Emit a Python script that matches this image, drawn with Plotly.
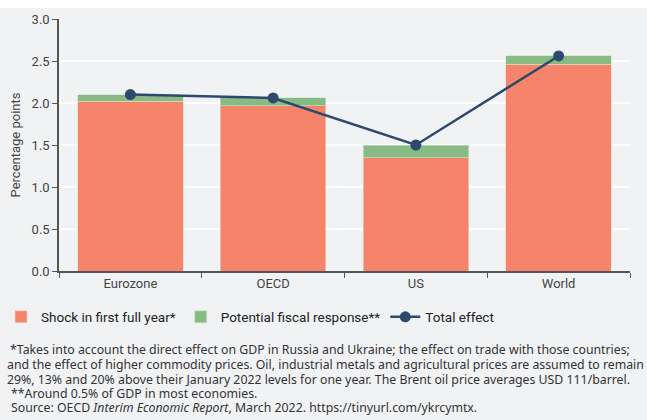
import plotly.graph_objects as go

categories = ["Eurozone", "OECD", "US", "World"]
shock = [2.02, 1.97, 1.35, 2.46]
fiscal = [0.08, 0.09, 0.15, 0.10]
total = [2.10, 2.06, 1.50, 2.56]
y_ticks = [0.0, 0.5, 1.0, 1.5, 2.0, 2.5, 3.0]

W, H = 647, 420
ML, MR, MT, MB = 59, 17, 19, 149
PW, PH = W - ML - MR, H - MT - MB

def px(x):
    return (x - ML) / PW

def py(y):
    return (H - MB - y) / PH

FONT = "Roboto"
NOTE_FONT = "Noto Sans"
ORANGE = "#f5846a"
GREEN = "#87bb83"
NAVY = "#2d4a6e"
BG = "#f1f2f4"

fig = go.Figure()
fig.add_trace(go.Bar(x=categories, y=shock, name="Shock in first full year*",
                     marker=dict(color=ORANGE, line=dict(color="#f7d6cc", width=0.6)), width=0.74))
fig.add_trace(go.Bar(x=categories, y=fiscal, name="Potential fiscal response**",
                     marker=dict(color=GREEN, line=dict(color="#cfe3cd", width=0.6)), width=0.74))
fig.add_trace(go.Scatter(x=categories, y=total, name="Total effect", mode="lines+markers",
                         line=dict(color=NAVY, width=2.5), marker=dict(color=NAVY, size=11)))

fig.update_layout(
    width=W, height=H, barmode="stack",
    margin=dict(l=ML, r=MR, t=MT, b=MB, pad=0, autoexpand=False),
    paper_bgcolor="white", plot_bgcolor=BG,
    font=dict(family=FONT, color="#444444", size=12),
    showlegend=True,
    legend=dict(orientation="h", x=px(1), y=py(317), xanchor="left", yanchor="middle",
                font=dict(family=FONT, size=13.5, color="#222222"), bgcolor="rgba(0,0,0,0)",
                traceorder="normal", itemwidth=30, tracegroupgap=0),
    xaxis=dict(range=[-0.5, 3.5], showline=True, linecolor="#555555", linewidth=1.5,
               ticks="outside", tickson="boundaries", ticklen=5, tickcolor="#555555",
               tickfont=dict(size=13, color="#444444"), showgrid=False, automargin=False),
    yaxis=dict(range=[0, 3.0], tickvals=y_ticks, ticktext=[f"{v:.1f}" for v in y_ticks],
               showline=True, linecolor="#555555", linewidth=1.5, ticks="outside", ticklen=5,
               tickcolor="#555555", gridcolor="white", gridwidth=2, zeroline=False,
               tickfont=dict(size=13, color="#444444"), automargin=False,
               title=dict(text="Percentage points", font=dict(size=13, color="#444444"), standoff=8)),
)

fig.add_shape(type="rect", xref="paper", yref="paper", x0=px(0), x1=px(W), y0=py(H), y1=py(8),
              fillcolor=BG, line=dict(width=0), layer="below")

notes = [
    (8, 349, "*Takes into account the direct effect on GDP in Russia and Ukraine; the effect on trade with those countries;"),
    (5, 364, "and the effect of higher commodity prices. Oil, industrial metals and agricultural prices are assumed to remain"),
    (5, 379, "29%, 13% and 20% above their January 2022 levels for one year. The Brent oil price averages USD 111/barrel."),
    (9, 393, "**Around 0.5% of GDP in most economies."),
    (9, 408, "Source: OECD <i>Interim Economic Report</i>, March 2022. https://tinyurl.com/ykrcymtx."),
]
for x, y, t in notes:
    fig.add_annotation(text=t, x=px(x), y=py(y), xref="paper", yref="paper", xanchor="left",
                       yanchor="middle", showarrow=False, align="left",
                       font=dict(family=NOTE_FONT, size=12.3, color="#333333"))

fig.write_html("out.html", config={"displayModeBar": False},
               post_script="document.body.style.margin='0px';document.body.style.overflow='hidden';")
